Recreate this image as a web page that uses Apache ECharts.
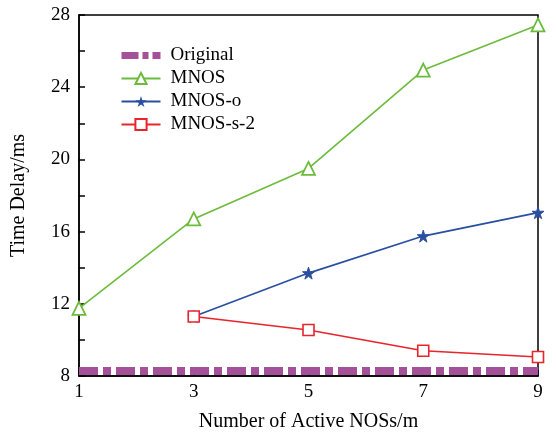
<!DOCTYPE html>
<html>
<head>
<meta charset="utf-8">
<script src="https://cdn.jsdelivr.net/npm/echarts@6/dist/echarts.min.js"></script>
<style>html,body{margin:0;padding:0;background:#fff;}#c{width:556px;height:433px;}</style>
</head>
<body>
<div id="c"></div>
<script>
var xValues = [1, 3, 5, 7, 9];
var original = [8.28, 8.28, 8.28, 8.28, 8.28];
var mnos = [11.75, 16.7, 19.5, 24.95, 27.45];
var mnosO = [null, 11.3, 13.7, 15.75, 17.05];
var mnosS2 = [null, 11.3, 10.55, 9.4, 9.05];
var yTicks = [8, 12, 16, 20, 24, 28];

function pairs(vals) {
  var out = [];
  for (var i = 0; i < xValues.length; i++) {
    if (vals[i] !== null) out.push([xValues[i], vals[i]]);
  }
  return out;
}

var FONT = 'Liberation Serif';
var starPath = 'path://M50,0 L61,35 L98,35 L68,57 L79,91 L50,70 L21,91 L32,57 L2,35 L39,35 Z';
var PURPLE = '#a4519a';

var chart = echarts.init(document.getElementById('c'));
chart.setOption({
  animation: false,
  backgroundColor: '#fff',
  grid: {
    left: 79, right: 18, top: 15, bottom: 57,
    containLabel: false, outerBoundsMode: 'none',
    show: true, borderColor: '#000', borderWidth: 1.5, backgroundColor: 'transparent'
  },
  legend: {
    orient: 'vertical',
    left: 118,
    top: 46,
    padding: 0,
    itemWidth: 39,
    itemHeight: 14,
    itemGap: 4,
    textStyle: { fontFamily: FONT, fontSize: 19, color: '#000', padding: [0, 0, 0, 5] },
    data: [
      { name: 'Original', itemStyle: { opacity: 0 }, lineStyle: { width: 7, color: PURPLE, type: [17, 4, 6, 4] } },
      'MNOS', 'MNOS-o', 'MNOS-s-2'
    ]
  },
  xAxis: {
    type: 'value',
    min: 1, max: 9, interval: 2,
    name: 'Number of Active NOSs/m',
    nameLocation: 'middle',
    nameGap: 36,
    nameTextStyle: { fontFamily: FONT, fontSize: 20, color: '#000' },
    axisLine: { lineStyle: { color: '#000', width: 1.5 } },
    axisTick: { inside: true, length: 6, lineStyle: { color: '#000', width: 1.5 } },
    axisLabel: { fontFamily: FONT, fontSize: 19, color: '#000', margin: 7 },
    splitLine: { show: false }
  },
  yAxis: {
    type: 'value',
    min: 8, max: 28, interval: 2,
    name: 'Time Delay/ms',
    nameLocation: 'middle',
    nameGap: 50,
    nameTextStyle: { fontFamily: FONT, fontSize: 20, color: '#000' },
    axisLine: { lineStyle: { color: '#000', width: 1.5 } },
    axisTick: { inside: true, length: 6, lineStyle: { color: '#000', width: 1.5 } },
    axisLabel: {
      fontFamily: FONT, fontSize: 19, color: '#000', margin: 9,
      formatter: function (v) { return yTicks.indexOf(v) >= 0 ? String(v) : ''; }
    },
    splitLine: { show: false }
  },
  series: [
    {
      name: 'Original', type: 'line', data: pairs(original),
      showSymbol: false, symbol: 'circle',
      lineStyle: { color: PURPLE, width: 8, type: [19, 5, 8, 5] },
      itemStyle: { color: PURPLE },
      z: 1
    },
    {
      name: 'MNOS', type: 'line', data: pairs(mnos),
      symbol: 'triangle', symbolSize: 13,
      lineStyle: { color: '#6cbb3c', width: 1.6 },
      itemStyle: { color: '#fff', borderColor: '#6cbb3c', borderWidth: 1.8 },
      z: 3
    },
    {
      name: 'MNOS-o', type: 'line', data: pairs(mnosO),
      symbol: starPath, symbolSize: 12,
      lineStyle: { color: '#2a4ea0', width: 1.6 },
      itemStyle: { color: '#2a4ea0', borderColor: '#2a4ea0' },
      z: 3
    },
    {
      name: 'MNOS-s-2', type: 'line', data: pairs(mnosS2),
      symbol: 'rect', symbolSize: 11,
      lineStyle: { color: '#e8242c', width: 1.6 },
      itemStyle: { color: '#fff', borderColor: '#e8242c', borderWidth: 1.6 },
      z: 4
    }
  ]
});
</script>
</body>
</html>
